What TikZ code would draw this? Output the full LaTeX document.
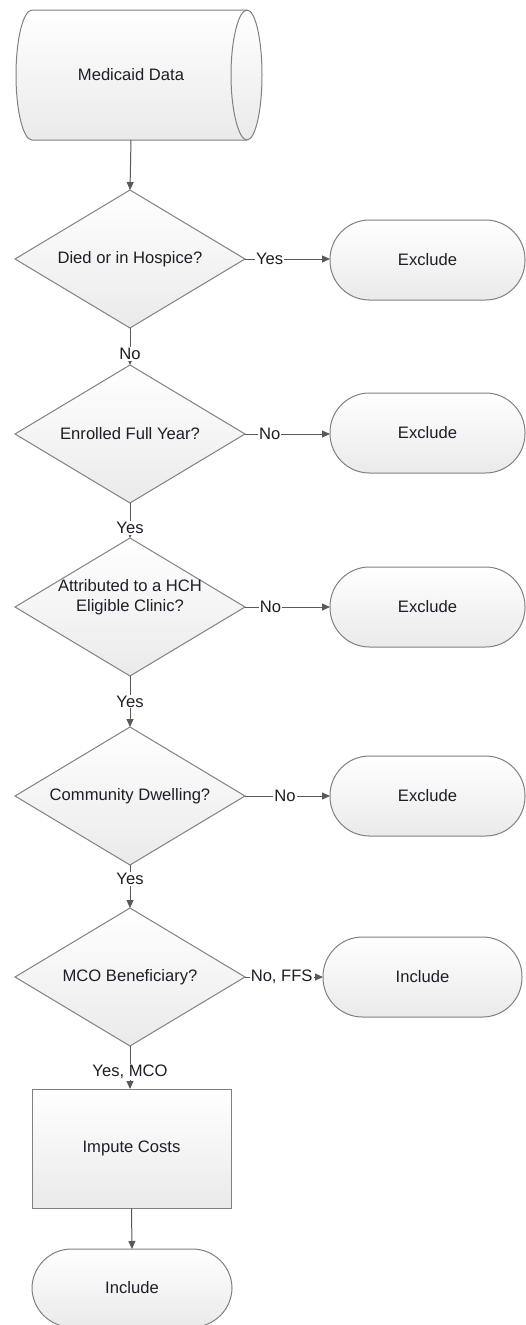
\documentclass[tikz,border=0pt]{standalone}
\usepackage{fontspec}
\setmainfont{Liberation Sans}
\usetikzlibrary{shapes.geometric,arrows.meta}
\definecolor{edgegray}{RGB}{128,128,128}
\definecolor{linegray}{RGB}{89,89,89}
\definecolor{shadebot}{RGB}{234,234,234}
\definecolor{txt}{RGB}{30,30,40}
\tikzset{
  shp/.style={draw=edgegray, line width=1pt, top color=white, bottom color=shadebot, text=txt, inner sep=0pt, outer sep=0pt},
  decision/.style={shp, diamond, aspect=1.667, minimum width=230pt, minimum height=138pt},
  terminal/.style={shp, rectangle, rounded corners=39.5pt, minimum height=80pt},
  process/.style={shp, rectangle, minimum width=199pt, minimum height=119pt},
  conn/.style={draw=linegray, line width=1pt, -{Triangle[length=8pt,width=7pt]}},
  lbl/.style={fill=white, text=txt, inner sep=1pt},
}
\begin{document}
\begin{tikzpicture}[x=1pt, y=-1pt, font=\fontsize{16.6}{20}\selectfont]
\useasboundingbox (0,0) rectangle (526,1325);
% cylinder
\path[shp] (32,10) -- (247,10)
  .. controls (255.3,10) and (262,39.1) .. (262,75)
  .. controls (262,110.9) and (255.3,140) .. (247,140)
  -- (32,140)
  .. controls (23.2,140) and (16,110.9) .. (16,75)
  .. controls (16,39.1) and (23.2,10) .. (32,10) -- cycle;
\draw[edgegray, line width=1pt] (247,10)
  .. controls (238.7,10) and (231,39.1) .. (231,75)
  .. controls (231,110.9) and (238.7,140) .. (247,140);
\node[text=txt, minimum width=246pt, minimum height=130pt, inner sep=0pt] (data) at (131,75) {Medicaid Data};

\node[decision] (d1) at (130,259) {Died or in Hospice?};
\node[decision] (d2) at (130,434) {Enrolled Full Year?};
\node[decision, label={[yshift=10pt, align=center, text=txt]center:Attributed to a HCH\\Eligible Clinic?}] (d3) at (130,607) {};
\node[decision] (d4) at (130,796) {Community Dwelling?};
\node[decision] (d5) at (130,977) {MCO Beneficiary?};

\node[terminal, minimum width=195pt] (x1) at (427.5,260) {Exclude};
\node[terminal, minimum width=195pt] (x2) at (427.5,433) {Exclude};
\node[terminal, minimum width=195pt] (x3) at (427.5,607) {Exclude};
\node[terminal, minimum width=195pt] (x4) at (427.5,796) {Exclude};
\node[terminal, minimum width=199pt] (inc1) at (422.5,977) {Include};

\node[process] (imp) at (131.5,1148.5) {Impute Costs};
\node[terminal, minimum width=200pt, minimum height=78pt] (inc2) at (132,1288) {Include};

\draw[conn] (data.south) -- (d1.north);
\draw[conn] (d1.east) -- node[lbl, pos=0.29] {Yes} (x1.west |- d1.east);
\draw[conn] (d2.east) -- node[lbl, pos=0.29] {No} (x2.west |- d2.east);
\draw[conn] (d3.east) -- node[lbl, pos=0.3] {No} (x3.west |- d3.east);
\draw[conn] (d4.east) -- node[lbl, pos=0.47] {No} (x4.west |- d4.east);
\draw[conn] (d5.east) -- node[lbl, pos=0.47] {No, FFS} (inc1.west |- d5.east);

\draw[conn] (d1.south) -- node[lbl, pos=0.7] {No} (d2.north);
\draw[conn] (d2.south) -- node[lbl, pos=0.72] {Yes} (d3.north);
\draw[conn] (d3.south) -- node[lbl, pos=0.5] {Yes} (d4.north);
\draw[conn] (d4.south) -- node[lbl, pos=0.33] {Yes} (d5.north);
\draw[conn] (d5.south) -- node[lbl, pos=0.61] {Yes, MCO} (imp.north -| d5.south);
\draw[conn] (imp.south) -- (inc2.north);
\end{tikzpicture}
\end{document}
